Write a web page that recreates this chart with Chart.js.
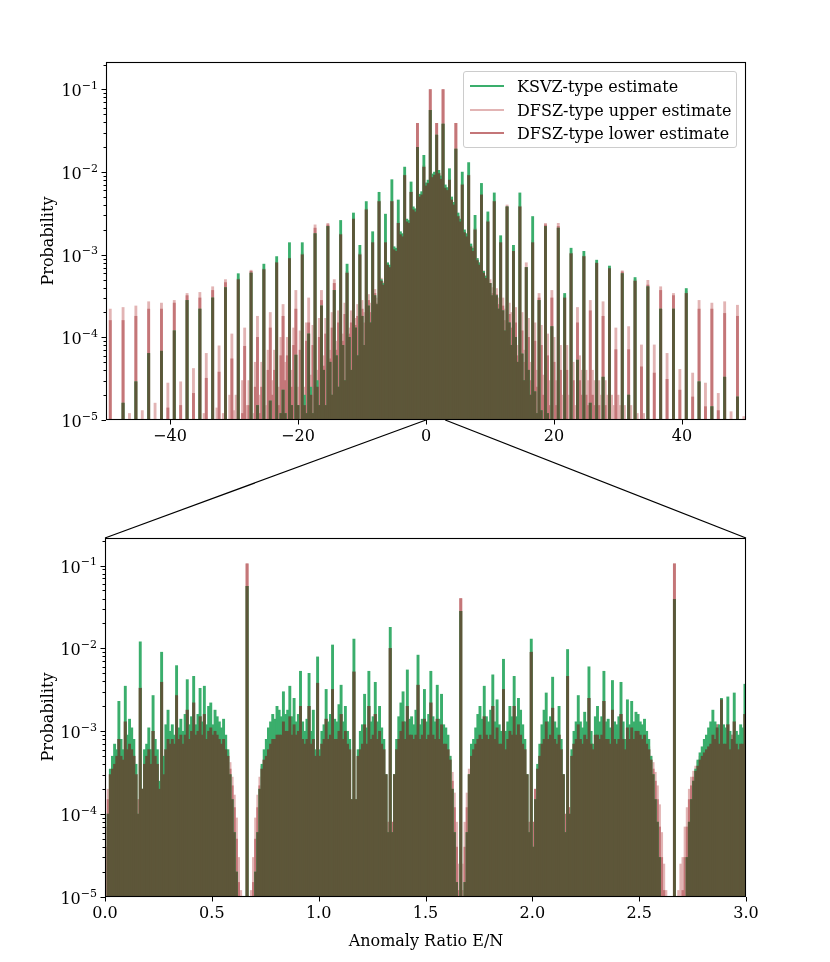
<!DOCTYPE html>
<html><head><meta charset="utf-8">
<script src="https://cdn.jsdelivr.net/npm/chart.js@4.4.1/dist/chart.umd.min.js"></script>
<style>
html,body{margin:0;padding:0;background:#fff;}
#wrap{position:relative;width:830px;height:962px;overflow:hidden;font-family:"DejaVu Serif",serif;color:#000;}
canvas{position:absolute;left:0;}
#c1{top:0;}
#c2{top:470px;}
#ov{position:absolute;left:0;top:0;}
.ylab{position:absolute;font-size:16px;transform:translate(-50%,-50%) rotate(-90deg);white-space:nowrap;}
#xlab{position:absolute;font-size:16px;transform:translate(-50%,-50%);white-space:nowrap;}
#legend{position:absolute;left:463px;top:71px;width:274px;height:77px;box-sizing:border-box;border:1px solid #cccccc;border-radius:3px;background:rgba(255,255,255,0.8);}
.row{position:absolute;left:0;height:20px;display:flex;align-items:center;font-size:16px;white-space:nowrap;}
.sw{display:inline-block;width:34px;height:2px;margin-left:6px;margin-right:13px;}
</style></head>
<body>
<div id="wrap">
<canvas id="c1" width="830" height="470"></canvas>
<canvas id="c2" width="830" height="492"></canvas>
<svg id="ov" width="830" height="962"></svg>
<div class="ylab" style="left:47px;top:241px;">Probability</div>
<div class="ylab" style="left:47px;top:717px;">Probability</div>
<div id="xlab" style="left:426px;top:940px;">Anomaly Ratio E/N</div>
<div id="legend">
  <div class="row" style="top:4px;"><span class="sw" style="background:rgb(58,174,108)"></span>KSVZ-type estimate</div>
  <div class="row" style="top:28px;"><span class="sw" style="background:rgb(226,180,180)"></span>DFSZ-type upper estimate</div>
  <div class="row" style="top:51px;"><span class="sw" style="background:rgb(196,118,120)"></span>DFSZ-type lower estimate</div>
</div>
</div>
<script>
// ---------- DATA ----------
// Top panel: histogram bins of width 1/3 in E/N, from -50 to 50 (300 bins)
// each row = 6 bins: [2j, 2j+1/3, 2j+2/3, 2j+1, 2j+4/3, 2j+5/3], j = -25 .. 24
const topKSVZ = [
0,0,0,0,0,0,
0,0,1.6e-5,0,0,0,
0,0,2.9e-5,0,0,0,
0,0,6.4e-5,0,0,0,
0,0,6.8e-5,0,0,0,
0,0,1.2e-4,0,0,0,
0,0,2.8e-4,0,0,0,
0,0,2.2e-4,0,0,0,
0,0,3e-4,0,0,0,
0,0,4e-4,0,0,0,
0,0,5.9e-4,0,0,0,
0,0,6e-4,0,0,1.5e-5,
0,0,7.7e-4,0,0,1.7e-5,
0,0,9.5e-4,0,1.2e-5,2.3e-5,
1.2e-5,0,1.4e-3,1.5e-5,0,6.1e-5,
1.5e-5,0,1.4e-3,2e-5,1.2e-5,1.1e-4,
2.5e-5,1.2e-5,1.8e-3,3e-5,1.5e-5,2.4e-4,
4e-5,1.5e-5,2.2e-3,5e-5,2e-5,3.7e-4,
6e-5,2.5e-5,2.6e-3,8e-5,3e-5,7.7e-4,
1e-4,4e-5,3.2e-3,1.3e-4,6e-5,1.3e-3,
1.8e-4,8e-5,4.4e-3,2.4e-4,1.5e-4,1.9e-3,
3.2e-4,2.5e-4,5.7e-3,5e-4,4.5e-4,3.1e-3,
8e-4,7.5e-4,8.1e-3,1.25e-3,1.2e-3,4.6e-3,
1.9e-3,1.8e-3,1.15e-2,2.7e-3,2.6e-3,7.6e-3,
3.8e-3,3.6e-3,2e-2,5.4e-3,5.8e-3,1.6e-2,
7.4e-3,8e-3,5.6e-2,9.5e-3,1e-2,2.8e-2,
1.05e-2,9e-3,3.8e-2,7e-3,6.5e-3,1.1e-2,
5e-3,4.3e-3,1.9e-2,3.2e-3,2.7e-3,1e-2,
2e-3,1.8e-3,1.3e-2,1.35e-3,1.2e-3,3e-3,
9e-4,8e-4,7.3e-3,6.3e-4,5.5e-4,3.3e-3,
4.5e-4,3.2e-4,5.6e-3,3.2e-4,2.2e-4,1.7e-3,
2.1e-4,1.2e-4,3.8e-3,1.5e-4,8e-5,1.3e-3,
1e-4,5e-5,5.6e-3,6.3e-5,3e-5,7e-4,
4e-5,2e-5,2.9e-3,2.2e-5,1.2e-5,2.8e-4,
1.3e-5,0,2.2e-3,1.2e-5,0,1.35e-4,
0,0,2.1e-3,0,0,3.4e-4,
0,0,1.2e-3,0,0,5.3e-5,
0,0,1.1e-3,0,0,1.6e-5,
0,0,8.6e-4,0,0,3.3e-5,
0,0,7.3e-4,0,0,0,
0,0,5.9e-4,0,0,2e-5,
0,0,5.3e-4,0,0,0,
0,0,4.1e-4,0,0,0,
0,0,2.2e-4,0,0,0,
0,0,2.2e-4,0,0,0,
0,0,3.9e-4,0,0,0,
0,0,2.9e-5,0,0,0,
0,0,1.45e-5,0,0,0,
0,0,3.3e-5,0,0,0,
0,0,1.9e-5,0,0,0
];
const topLower = [
0,0,1.6e-4,0,0,0,
0,0,1.6e-4,0,0,0,
0,0,1.8e-4,0,0,0,
0,0,2.2e-4,0,0,0,
0,0,2.2e-4,0,0,1.4e-5,
0,0,2.6e-4,0,0,1.5e-5,
0,0,3.2e-4,0,0,2.1e-5,
0,0,3e-4,0,0,3.2e-5,
0,0,3.7e-4,0,0,3.8e-5,
0,0,4.6e-4,0,0,5.5e-5,
0,0,5e-4,0,1.2e-5,7.8e-5,
0,1.5e-5,6.3e-4,0,2.5e-5,1e-4,
1.2e-5,2.5e-5,6.6e-4,0,4e-5,1.3e-4,
2e-5,4e-5,8e-4,1.5e-5,6e-5,1.8e-4,
3e-5,6e-5,9e-4,2.5e-5,8e-5,2.2e-4,
1.5e-5,7e-5,1e-3,1.5e-5,9e-5,1.5e-4,
2e-5,8e-5,2.1e-3,2.5e-5,1e-4,2.8e-4,
4.5e-5,1.1e-4,2.3e-3,5.5e-5,1.3e-4,4.5e-4,
7e-5,1.5e-4,1.75e-3,9e-5,1.9e-4,6e-4,
1.1e-4,1.5e-4,2.7e-3,1.4e-4,1.8e-4,1e-3,
2.2e-4,1.5e-4,3.5e-3,2.8e-4,2e-4,1.4e-3,
3.4e-4,2.6e-4,4.4e-3,4.8e-4,4.3e-4,1.4e-3,
7.5e-4,7e-4,4.4e-3,1.15e-3,1.1e-3,2.4e-3,
1.75e-3,1.65e-3,9.1e-3,2.5e-3,2.4e-3,5.7e-3,
3.5e-3,3.3e-3,3.9e-2,5e-3,5.3e-3,1.15e-2,
6.8e-3,7.3e-3,0.1,8.6e-3,9.2e-3,3.9e-2,
9.6e-3,8.2e-3,0.1,6.4e-3,6e-3,8e-3,
4.6e-3,4e-3,3.9e-2,2.9e-3,2.5e-3,7e-3,
1.85e-3,1.65e-3,9.1e-3,1.25e-3,1.1e-3,2e-3,
8.5e-4,7.5e-4,5.3e-3,6e-4,5.2e-4,2.5e-3,
4.5e-4,3.4e-4,4.4e-3,3.3e-4,2.5e-4,1.4e-3,
2.4e-4,1.6e-4,3.8e-3,1.9e-4,1.3e-4,1.1e-3,
1.5e-4,6e-5,3.8e-3,1.2e-4,5e-5,7e-4,
1e-4,3e-5,1.4e-3,9e-5,2.5e-5,3e-4,
8e-5,2e-5,2.3e-3,6e-5,1.5e-5,3e-4,
5e-5,1.5e-5,2.2e-3,4e-5,0,3e-4,
4e-5,0,1.03e-3,3e-5,0,1.5e-4,
3e-5,2e-5,9.5e-4,2e-5,1.5e-5,2.1e-4,
2e-5,1.5e-5,7.9e-4,1.5e-5,0,1.8e-4,
1.5e-5,0,6.8e-4,0,0,7.1e-5,
0,0,6.2e-4,0,0,7.1e-5,
0,0,4.8e-4,0,0,4.4e-5,
0,0,4.3e-4,0,0,3.7e-5,
0,0,3.7e-4,0,0,3.1e-5,
0,0,3.2e-4,0,0,2.3e-5,
0,0,3.4e-4,0,0,1.9e-5,
0,0,2.2e-4,0,0,1.45e-5,
0,0,2.2e-4,0,0,1.3e-5,
0,0,1.95e-4,0,0,0,
0,0,1.8e-4,0,0,0
];
const topUpper = [
0,0,2.2e-4,0,0,0,
0,0,2.3e-4,0,0,1.2e-5,
0,0,2.4e-4,0,0,1.3e-5,
0,0,2.7e-4,0,0,1.6e-5,
0,0,2.6e-4,0,0,2.8e-5,
0,0,2.8e-4,0,0,2.9e-5,
0,0,3.4e-4,0,0,4.2e-5,
0,0,3.5e-4,0,1.2e-5,6.4e-5,
0,0,4.1e-4,0,1.4e-5,7.9e-5,
0,1.2e-5,5e-4,0,2e-5,1.1e-4,
1.3e-5,2e-5,5.2e-4,0,3e-5,1.3e-4,
1.5e-5,3e-5,6.5e-4,1.2e-5,5e-5,1.8e-4,
2e-5,5e-5,6.8e-4,1.5e-5,7e-5,2e-4,
3e-5,7e-5,8.2e-4,2.5e-5,1e-4,2.5e-4,
5e-5,1e-4,9.2e-4,4e-5,1.3e-4,3.7e-4,
2.5e-5,1.2e-4,1.05e-3,2.5e-5,1.5e-4,3e-4,
3.5e-5,1.4e-4,2.3e-3,4e-5,1.7e-4,3.7e-4,
6e-5,1.7e-4,2.4e-3,7e-5,2e-4,5e-4,
9e-5,2.1e-4,1.8e-3,1.1e-4,2.6e-4,6.3e-4,
1.3e-4,2.1e-4,2.8e-3,1.7e-4,2.5e-4,1.05e-3,
2.8e-4,2e-4,3.6e-3,3.3e-4,2.6e-4,1.5e-3,
3.8e-4,3e-4,4.5e-3,5.2e-4,4.7e-4,1.5e-3,
7.8e-4,7.2e-4,4.5e-3,1.2e-3,1.15e-3,2.5e-3,
1.8e-3,1.7e-3,9.3e-3,2.6e-3,2.5e-3,5.8e-3,
3.6e-3,3.4e-3,3.9e-2,5.1e-3,5.4e-3,1.2e-2,
7e-3,7.5e-3,0.1,8.8e-3,9.4e-3,3.9e-2,
9.8e-3,8.4e-3,0.1,6.6e-3,6.1e-3,8.2e-3,
4.7e-3,4.1e-3,3.9e-2,3e-3,2.6e-3,7.2e-3,
1.9e-3,1.7e-3,9.3e-3,1.3e-3,1.15e-3,2.1e-3,
9e-4,8e-4,5.4e-3,6.4e-4,5.6e-4,2.6e-3,
5e-4,4e-4,4.5e-3,3.9e-4,3e-4,1.5e-3,
3e-4,2.2e-4,4e-3,2.6e-4,2e-4,1.2e-3,
2.3e-4,8e-5,3.9e-3,2e-4,7e-5,8e-4,
1.7e-4,5e-5,1.5e-3,1.5e-4,4e-5,3.4e-4,
1.4e-4,3.5e-5,2.4e-3,1.1e-4,3e-5,3.7e-4,
1e-4,3e-5,2.4e-3,8e-5,2e-5,3.2e-4,
8e-5,2e-5,1.05e-3,5e-5,1.5e-5,2.3e-4,
6e-5,4e-5,9.7e-4,4e-5,3e-5,2.8e-4,
4e-5,3e-5,8e-4,3e-5,2e-5,2.7e-4,
3e-5,2e-5,7e-4,2e-5,1.5e-5,1.3e-4,
2e-5,1.5e-5,6.4e-4,1.5e-5,0,1.35e-4,
1.5e-5,0,5e-4,1.2e-5,0,8.1e-5,
1.2e-5,0,4.9e-4,0,0,8.1e-5,
0,0,4.1e-4,0,0,6.4e-5,
0,0,3.4e-4,0,0,4.1e-5,
0,0,3.6e-4,0,0,3.7e-5,
0,0,2.8e-4,0,0,2.8e-5,
0,0,2.6e-4,0,0,2.1e-5,
0,0,2.7e-4,0,0,1.26e-5,
0,0,2.45e-4,0,0,1.1e-5
];

// Bottom panel: bins of width 0.01 in E/N from 0 to 3 (300 bins), rows of 10 bins
const botKSVZ = [
0,1e-4,3.5e-4,5e-4,7e-4,6e-4,2.3e-3,8e-4,6e-4,3.5e-3,
9e-4,1.4e-3,1.1e-3,8e-4,4e-4,1e-4,1.2e-2,2e-4,6e-4,7e-4,
1.1e-3,6e-4,2.7e-3,8e-4,6e-4,2.5e-4,9e-3,5e-4,1.2e-3,1.8e-3,
1e-3,1.2e-3,9e-4,6.2e-3,1.1e-3,1.4e-3,1e-3,1.6e-3,4.2e-3,1.2e-3,
1.5e-3,4.6e-3,1.2e-3,1.6e-3,3.3e-3,1.3e-3,3.5e-3,1.2e-3,2e-3,2.2e-3,
1.2e-3,1.8e-3,1.5e-3,1.3e-3,1.1e-3,1.4e-3,9e-4,6e-4,3e-4,1.5e-4,
6e-5,2e-5,0,0,0,0,5.6e-2,0,0,0,
2e-5,6e-5,2e-4,4e-4,6e-4,8e-4,1.1e-3,1.3e-3,1.6e-3,1.4e-3,
2e-3,1.8e-3,1.5e-3,3e-3,1.6e-3,1.8e-3,3.5e-3,1.5e-3,2.5e-3,1.3e-3,
1.6e-3,5.3e-3,1.3e-3,1e-3,1.4e-3,5e-3,1e-3,1.8e-3,6e-4,7.9e-3,
6e-4,1e-3,1.2e-3,3.2e-3,1.3e-3,1.6e-3,1.1e-2,1.4e-3,1.3e-3,2.1e-3,
3.6e-3,1.3e-3,2e-3,1e-3,8e-4,1.5e-4,1.3e-2,1.5e-4,6e-4,1e-3,
1.2e-3,2.8e-3,1.1e-3,5.3e-3,1.3e-3,1.5e-3,3.9e-3,1.3e-3,2e-3,1.1e-3,
8e-4,3e-4,6e-5,1.8e-2,6e-5,3e-4,8e-4,1.5e-3,2.2e-3,3e-3,
1.3e-3,5.5e-3,1.4e-3,1.5e-3,1.2e-3,1.8e-3,8.3e-3,1.2e-3,1.4e-3,3.2e-3,
1.3e-3,1.6e-3,5.3e-3,1.5e-3,1.3e-3,3.6e-3,1.4e-3,2.8e-3,1.2e-3,1.1e-3,
9e-4,5e-4,2e-4,6e-5,1.5e-5,0,2.8e-2,0,1.5e-5,6e-5,
3e-4,7e-4,8e-4,1.1e-3,1.6e-3,2e-3,1.4e-3,3.5e-3,1.5e-3,1.3e-3,
1.8e-3,4.8e-3,1.3e-3,2.4e-3,1.2e-3,1e-3,7.4e-3,1e-3,1.3e-3,2e-3,
1.5e-3,4.6e-3,1.5e-3,2.5e-3,1.8e-3,1.2e-3,8e-4,3e-4,6e-5,1.3e-2,
4e-5,1.5e-4,4e-4,7e-4,1.2e-3,1.8e-3,2.9e-3,1.3e-3,1.5e-3,4.5e-3,
1.3e-3,1.1e-3,2e-3,8e-4,3e-4,6e-5,9.7e-3,1e-4,6e-4,1e-3,
1.3e-3,2.7e-3,1.3e-3,1.1e-3,1.7e-3,1.3e-3,6e-3,1e-3,7e-4,1.5e-3,
2e-3,1.3e-3,1.5e-3,5.3e-3,1.3e-3,1.4e-3,1.1e-3,4.1e-3,1.3e-3,1.2e-3,
1.5e-3,3.9e-3,1.3e-3,8e-4,2.4e-3,1.2e-3,2.3e-3,1.3e-3,1.7e-3,1.6e-3,
1.3e-3,1.2e-3,1.4e-3,1e-3,8e-4,5e-4,3e-4,1.5e-4,8e-5,3e-5,
1e-5,0,0,0,0,0,3.9e-2,0,0,0,
0,1e-5,3e-5,8e-5,1.5e-4,2.5e-4,3.5e-4,4.5e-4,5.5e-4,6.5e-4,
8e-4,9e-4,1.1e-3,1.3e-3,1.8e-3,1.3e-3,1.1e-3,1.2e-3,2.5e-3,1.2e-3,
1.1e-3,2.6e-3,1e-3,8e-4,2.9e-3,1e-3,9e-4,1.2e-3,1.1e-3,3.7e-3
];
const botLower = [
4e-5,1.5e-4,3e-4,3.5e-4,4e-4,5e-4,8e-4,5e-4,4.5e-4,1.3e-3,
6e-4,7e-4,6e-4,5e-4,3e-4,1.5e-4,3.3e-3,2e-4,4e-4,5e-4,
6e-4,4e-4,1e-3,5e-4,4e-4,2e-4,3.9e-3,3e-4,6e-4,8e-4,
7e-4,8e-4,7e-4,2.7e-3,8e-4,9e-4,7e-4,9e-4,1.8e-3,8e-4,
1e-3,2.2e-3,9e-4,1e-3,1.5e-3,9e-4,1.6e-3,8e-4,1e-3,1.1e-3,
9e-4,1e-3,9e-4,8e-4,7e-4,8e-4,6e-4,5e-4,3.5e-4,2.2e-4,
1.2e-4,5e-5,1.5e-5,0,0,0,0.105,0,0,1.5e-5,
5e-5,1.2e-4,2.2e-4,3.5e-4,4.5e-4,5e-4,6e-4,7e-4,8e-4,8e-4,
9e-4,9e-4,9e-4,1.3e-3,1e-3,1e-3,1.5e-3,9e-4,1.2e-3,9e-4,
1e-3,2e-3,8e-4,7e-4,8e-4,2e-3,7e-4,8e-4,5e-4,3.8e-3,
5e-4,7e-4,8e-4,1.4e-3,8e-4,9e-4,3.2e-3,8e-4,8e-4,1e-3,
1.6e-3,8e-4,1e-3,7e-4,6e-4,1.5e-4,5.2e-3,1.5e-4,5e-4,6e-4,
7e-4,1.2e-3,7e-4,2e-3,8e-4,9e-4,1.6e-3,8e-4,1e-3,7e-4,
6e-4,3e-4,8e-5,1e-2,8e-5,3e-4,6e-4,8e-4,1e-3,1.3e-3,
8e-4,2e-3,9e-4,9e-4,8e-4,9e-4,3.6e-3,8e-4,9e-4,1.4e-3,
8e-4,9e-4,2.2e-3,9e-4,8e-4,1.4e-3,8e-4,1.2e-3,7e-4,7e-4,
6e-4,4.5e-4,2.5e-4,1.2e-4,4e-5,1.2e-5,4e-2,1.2e-5,4e-5,1.2e-4,
3e-4,5e-4,6e-4,7e-4,8e-4,9e-4,8e-4,1.5e-3,9e-4,8e-4,
9e-4,2e-3,8e-4,1.1e-3,7e-4,7e-4,3.2e-3,6e-4,8e-4,1e-3,
9e-4,2e-3,9e-4,1.2e-3,9e-4,7e-4,6e-4,3e-4,8e-5,9e-3,
8e-5,2e-4,3.5e-4,5e-4,7e-4,8e-4,1.3e-3,8e-4,9e-4,1.9e-3,
8e-4,7e-4,9e-4,6e-4,3e-4,1e-4,4.6e-3,1.2e-4,5e-4,7e-4,
8e-4,1.2e-3,8e-4,7e-4,9e-4,8e-4,2.5e-3,7e-4,6e-4,9e-4,
9e-4,8e-4,9e-4,2.3e-3,8e-4,8e-4,7e-4,1.8e-3,8e-4,7e-4,
8e-4,1.6e-3,8e-4,6e-4,1.1e-3,8e-4,1.1e-3,8e-4,1e-3,1e-3,
9e-4,8e-4,9e-4,7e-4,6e-4,4.5e-4,3.5e-4,2.5e-4,1.5e-4,7e-5,
3e-5,1.2e-5,0,0,0,0,0.105,0,0,0,
1.2e-5,3e-5,7e-5,1.5e-4,2.2e-4,2.8e-4,3.3e-4,3.8e-4,4.5e-4,5e-4,
5.5e-4,6e-4,6.5e-4,7e-4,9e-4,8e-4,1.2e-3,7e-4,2.4e-3,7e-4,
7e-4,1.2e-3,6e-4,9e-4,1.3e-3,7e-4,6e-4,7e-4,7e-4,1.6e-3
];
const botUpper = [
7e-5,2e-4,3e-4,3.5e-4,4e-4,5e-4,8e-4,5e-4,4.5e-4,1.3e-3,
6e-4,7e-4,6e-4,5e-4,3e-4,1.5e-4,3.4e-3,2e-4,4e-4,5e-4,
6e-4,4e-4,1e-3,5e-4,4e-4,2e-4,4e-3,3e-4,6e-4,8e-4,
7e-4,8e-4,7e-4,2.8e-3,8e-4,9e-4,7e-4,9e-4,1.8e-3,8e-4,
1e-3,2.2e-3,9e-4,1e-3,1.5e-3,9e-4,1.6e-3,8e-4,1e-3,1.1e-3,
9e-4,1e-3,9e-4,8e-4,7e-4,8e-4,6e-4,5.5e-4,4.2e-4,2.8e-4,
1.7e-4,9e-5,3e-5,1.2e-5,0,0,0.105,0,1.2e-5,3e-5,
9e-5,1.7e-4,2.8e-4,3.8e-4,4.5e-4,5e-4,6e-4,7e-4,8e-4,8e-4,
9e-4,9e-4,9e-4,1.3e-3,1e-3,1e-3,1.5e-3,9e-4,1.2e-3,9e-4,
1e-3,2e-3,8e-4,7e-4,8e-4,2e-3,7e-4,8e-4,5e-4,3.8e-3,
5e-4,7e-4,8e-4,1.4e-3,8e-4,9e-4,3.2e-3,8e-4,8e-4,1e-3,
1.6e-3,8e-4,1e-3,7e-4,6e-4,1.5e-4,5.2e-3,1.5e-4,5e-4,6e-4,
7e-4,1.2e-3,7e-4,2e-3,8e-4,9e-4,1.6e-3,8e-4,1e-3,7e-4,
6e-4,3e-4,8e-5,1e-2,8e-5,3e-4,6e-4,8e-4,1e-3,1.3e-3,
8e-4,2e-3,9e-4,9e-4,8e-4,9e-4,3.6e-3,8e-4,9e-4,1.4e-3,
8e-4,9e-4,2.2e-3,9e-4,8e-4,1.4e-3,8e-4,1.2e-3,7e-4,7e-4,
6e-4,5e-4,3.2e-4,1.8e-4,8e-5,2.5e-5,4e-2,2.5e-5,8e-5,1.8e-4,
3.5e-4,5e-4,6e-4,7e-4,8e-4,9e-4,8e-4,1.5e-3,9e-4,8e-4,
9e-4,2e-3,8e-4,1.1e-3,7e-4,7e-4,3.2e-3,6e-4,8e-4,1e-3,
9e-4,2e-3,9e-4,1.2e-3,9e-4,7e-4,6e-4,3e-4,8e-5,9e-3,
8e-5,2e-4,3.5e-4,5e-4,7e-4,8e-4,1.3e-3,8e-4,9e-4,1.9e-3,
8e-4,7e-4,9e-4,6e-4,3e-4,1e-4,4.6e-3,1.2e-4,5e-4,7e-4,
8e-4,1.2e-3,8e-4,7e-4,9e-4,8e-4,2.5e-3,7e-4,6e-4,9e-4,
9e-4,8e-4,9e-4,2.3e-3,8e-4,8e-4,7e-4,1.8e-3,8e-4,7e-4,
8e-4,1.6e-3,8e-4,6e-4,1.1e-3,8e-4,1.1e-3,8e-4,1e-3,1e-3,
9e-4,8e-4,9e-4,7e-4,6.5e-4,5e-4,4.2e-4,3.2e-4,2.2e-4,1.3e-4,
6e-5,2.5e-5,1.2e-5,0,0,0,0.105,0,1.2e-5,2.5e-5,
3e-5,7e-5,1.2e-4,2e-4,2.8e-4,3.3e-4,3.8e-4,4.3e-4,5e-4,5.5e-4,
5.5e-4,6e-4,6.5e-4,7e-4,9e-4,8e-4,1.2e-3,7e-4,2.4e-3,7e-4,
7e-4,1.2e-3,6e-4,9e-4,1.3e-3,7e-4,6e-4,7e-4,7e-4,1.6e-3
];
const topTicks = [-40, -20, 0, 20, 40];
const botTicks = [0, 0.5, 1, 1.5, 2, 2.5, 3];
const decades = [-5, -4, -3, -2, -1];

// bin centres
const topCenters = [], botCenters = [];
for (let i = 0; i < 300; i++) { topCenters.push((i - 150) / 3); botCenters.push(0.005 + i * 0.01); }

// ---------- STYLE ----------
const C_K = 'rgb(58,174,108)';
const C_L = 'rgb(196,118,120)';
const C_U = 'rgb(226,180,180)';
const C_ALL = 'rgb(93,86,57)';
const FONT = '"DejaVu Serif", serif';

const axisDeco = {
  id: 'axisDeco',
  afterDraw(chart) {
    const {ctx, chartArea: a, scales} = chart;
    ctx.save();
    ctx.strokeStyle = '#000';
    ctx.lineWidth = 1;
    const ys = scales.y;
    for (const e of decades) for (let m = 1; m <= 9; m++) {
      const v = m * Math.pow(10, e);
      if (v > ys.max) continue;
      const py = Math.round(ys.getPixelForValue(v)) + 0.5;
      const len = m === 1 ? 4.5 : 2.5;
      ctx.beginPath(); ctx.moveTo(a.left - len, py); ctx.lineTo(a.left, py); ctx.stroke();
    }
    scales.x.ticks.forEach(t => {
      const px = Math.round(scales.x.getPixelForValue(t.value)) + 0.5;
      ctx.beginPath(); ctx.moveTo(px, a.bottom); ctx.lineTo(px, a.bottom + 4.5); ctx.stroke();
    });
    ctx.lineWidth = 1.1;
    ctx.strokeRect(Math.round(a.left) + 0.5, Math.round(a.top) + 0.5, Math.round(a.right - a.left) - 1, Math.round(a.bottom - a.top) - 1);
    // y labels 10^e
    ctx.fillStyle = '#000';
    ctx.textBaseline = 'alphabetic';
    ctx.textAlign = 'left';
    for (const e of decades) {
      const py = ys.getPixelForValue(Math.pow(10, e));
      const sup = String(e).split('').map(c => c === '-' ? '\u2212' : c).join('');
      ctx.font = '11px ' + FONT;
      const ws = ctx.measureText(sup).width;
      ctx.font = '16px ' + FONT;
      const wb = ctx.measureText('10').width;
      const right = a.left - 8;
      ctx.fillText('10', right - ws - wb, py + 7);
      ctx.font = '11px ' + FONT;
      ctx.fillText(sup, right - ws, py - 0.5);
    }
    ctx.restore();
  }
};

function makeChart(id, xs, K, L, U, xmin, xmax, ticks, fmt, padTop, yW, xH, thick) {
  const toPts = arr => xs.map((x, i) => ({x: x, y: arr[i] > 0 ? arr[i] : null}));
  const overlap = K.map((k, i) => Math.min(k, L[i], U[i] > 0 ? U[i] : L[i]));
  const ds = (label, arr, color, order) => ({
    label, data: toPts(arr), backgroundColor: color, borderWidth: 0,
    grouped: false, barThickness: thick, order
  });
  return new Chart(document.getElementById(id), {
    type: 'bar',
    data: { datasets: [
      ds('overlap', overlap, C_ALL, 0),
      ds('KSVZ-type estimate', K, C_K, 1),
      ds('DFSZ-type lower estimate', L, C_L, 2),
      ds('DFSZ-type upper estimate', U, C_U, 3)
    ]},
    options: {
      responsive: false, animation: false, events: [],
      layout: { padding: { top: padTop, right: 84, left: 0, bottom: 0 } },
      plugins: { legend: { display: false }, tooltip: { enabled: false } },
      scales: {
        x: {
          type: 'linear', min: xmin, max: xmax, offset: false,
          grid: { display: false, drawTicks: false }, border: { display: false },
          afterBuildTicks: s => { s.ticks = ticks.map(v => ({ value: v })); },
          afterFit: s => { s.height = xH; },
          ticks: { font: { family: FONT, size: 16 }, color: '#000', padding: 7, maxRotation: 0, autoSkip: false, callback: fmt }
        },
        y: {
          type: 'logarithmic', min: 1e-5, max: 0.215,
          grid: { display: false, drawTicks: false }, border: { display: false },
          ticks: { display: false },
          afterFit: s => { s.width = yW; }
        }
      }
    },
    plugins: [axisDeco]
  });
}

const fmtTop = v => (v < 0 ? '\u2212' + Math.abs(v) : String(v));
const fmtBot = v => Number(v).toFixed(1);

const ch1 = makeChart('c1', topCenters, topKSVZ, topLower, topUpper, -50, 50, topTicks, fmtTop, 62, 106, 50, 2.2);
const ch2 = makeChart('c2', botCenters, botKSVZ, botLower, botUpper, 0, 3, botTicks, fmtBot, 68, 105, 65, 2.25);

// connector lines between the panels
const ov = document.getElementById('ov');
const x0 = ch1.scales.x.getPixelForValue(0), x3 = ch1.scales.x.getPixelForValue(3);
const yb = ch1.chartArea.bottom;
const a2 = ch2.chartArea, off2 = 470;
function line(x1, y1, x2, y2) {
  const l = document.createElementNS('http://www.w3.org/2000/svg', 'line');
  l.setAttribute('x1', x1); l.setAttribute('y1', y1); l.setAttribute('x2', x2); l.setAttribute('y2', y2);
  l.setAttribute('stroke', '#000'); l.setAttribute('stroke-width', '1.2');
  ov.appendChild(l);
}
line(x0, yb, a2.left, off2 + a2.top);
line(x3, yb, a2.right, off2 + a2.top);
</script>
</body></html>
